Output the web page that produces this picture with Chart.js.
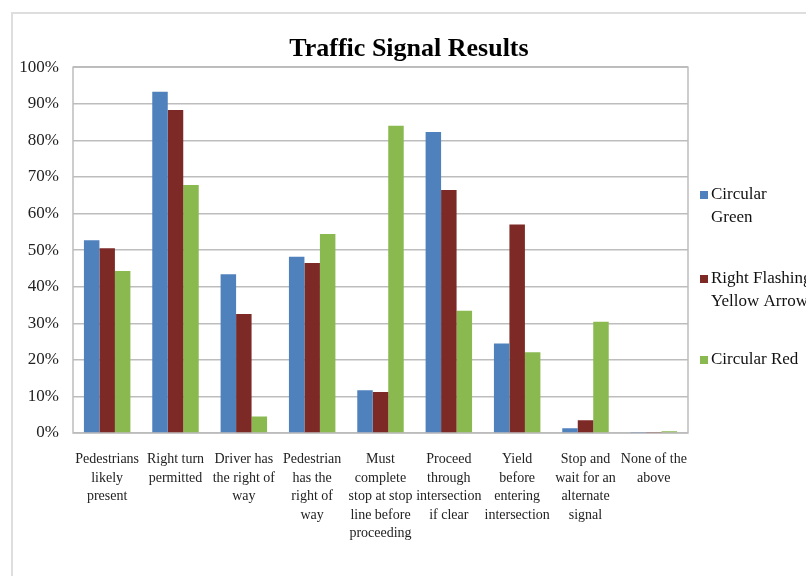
<!DOCTYPE html>
<html>
<head>
<meta charset="utf-8">
<script src="https://cdn.jsdelivr.net/npm/chart.js@4"></script>
<style>
  html, body { margin: 0; padding: 0; background: #fff; }
  #wrap { position: relative; width: 806px; height: 576px; overflow: hidden; }
  #cadre { position: absolute; left: 11px; top: 12px; width: 900px; height: 700px;
           border-left: 2px solid #dedede; border-top: 2px solid #dedede; pointer-events: none; }
  canvas { position: absolute; left: 0; top: 0; }
</style>
</head>
<body>
<div id="wrap">
  <div id="cadre"></div>
  <canvas id="grafico" width="806" height="576"></canvas>
</div>
<script>
const categorias = [
    ['Pedestrians', 'likely', 'present'],
    ['Right turn', 'permitted'],
    ['Driver has', 'the right of', 'way'],
    ['Pedestrian', 'has the', 'right of', 'way'],
    ['Must', 'complete', 'stop at stop', 'line before', 'proceeding'],
    ['Proceed', 'through', 'intersection', 'if clear'],
    ['Yield', 'before', 'entering', 'intersection'],
    ['Stop and', 'wait for an', 'alternate', 'signal'],
    ['None of the', 'above']
];

const nomesSeries = [['Circular', 'Green'], ['Right Flashing', 'Yellow Arrow'], ['Circular Red']];

const circularGreen = [52.7, 93.3, 43.4, 48.2, 11.7, 82.3, 24.5, 1.3, 0.3];
const rightFlashing = [50.5, 88.3, 32.5, 46.5, 11.2, 66.4, 57.0, 3.5, 0.3];
const circularRed   = [44.3, 67.8, 4.5, 54.4, 84.0, 33.4, 22.1, 30.4, 0.5];

const ticksY = [0, 10, 20, 30, 40, 50, 60, 70, 80, 90, 100];

const cores = ['#4F81BD', '#7D2A27', '#8AB94F'];
const fonte = "'Liberation Serif', 'DejaVu Serif', serif";

// moldura cinza em volta da área do gráfico
const moldura = {
    id: 'moldura',
    beforeDatasetsDraw(chart) {
        const a = chart.chartArea;
        const ctx = chart.ctx;
        ctx.save();
        ctx.strokeStyle = '#bdbdbd';
        ctx.lineWidth = 1.5;
        ctx.strokeRect(a.left, a.top, a.right - a.left, a.bottom - a.top);
        ctx.restore();
    }
};

// legenda desenhada à mão (texto em duas linhas)
const legenda = {
    id: 'legenda',
    afterDraw(chart) {
        const ctx = chart.ctx;
        const posY = [195, 279, 360];
        ctx.save();
        ctx.font = '17px ' + fonte;
        ctx.textBaseline = 'middle';
        chart.data.datasets.forEach((ds, i) => {
            ctx.fillStyle = ds.backgroundColor;
            ctx.fillRect(700, posY[i] - 4, 8, 8);
            ctx.fillStyle = '#111';
            ds.label.forEach((linha, j) => {
                ctx.fillText(linha, 711, posY[i] + j * 23);
            });
        });
        ctx.restore();
    }
};

const ctx = document.getElementById('grafico').getContext('2d');
new Chart(ctx, {
    type: 'bar',
    data: {
        labels: categorias,
        datasets: [
            { label: nomesSeries[0], data: circularGreen, backgroundColor: cores[0] },
            { label: nomesSeries[1], data: rightFlashing, backgroundColor: cores[1] },
            { label: nomesSeries[2], data: circularRed, backgroundColor: cores[2] }
        ]
    },
    options: {
        responsive: false,
        animation: false,
        devicePixelRatio: 1,
        layout: { padding: { left: 12, top: 12, right: 0, bottom: 0 } },
        datasets: { bar: { barPercentage: 1.0, categoryPercentage: 0.68 } },
        plugins: {
            legend: { display: false },
            tooltip: { enabled: false },
            title: {
                display: true,
                text: 'Traffic Signal Results',
                color: '#000',
                font: { family: fonte, size: 26, weight: 'bold' },
                padding: { top: 22, bottom: 2 }
            }
        },
        scales: {
            x: {
                grid: { display: false },
                border: { display: false },
                ticks: {
                    autoSkip: false,
                    maxRotation: 0,
                    minRotation: 0,
                    padding: 9,
                    color: '#222',
                    font: { family: fonte, size: 14, lineHeight: 1.33 }
                },
                afterFit: s => { s.height = 143; }
            },
            y: {
                min: 0,
                max: 100,
                afterBuildTicks: s => { s.ticks = ticksY.map(v => ({ value: v })); },
                grid: { color: '#bdbdbd', lineWidth: 1.5, drawTicks: false },
                border: { display: false },
                ticks: {
                    padding: 14,
                    color: '#222',
                    font: { family: fonte, size: 17 },
                    callback: v => v + '%'
                },
                afterFit: s => { s.width = 61; }
            },
            lado: {
                type: 'linear',
                position: 'right',
                min: 0,
                max: 1,
                grid: { display: false },
                border: { display: false },
                ticks: { display: false },
                afterFit: s => { s.width = 118; }
            }
        }
    },
    plugins: [moldura, legenda]
});
</script>
</body>
</html>
